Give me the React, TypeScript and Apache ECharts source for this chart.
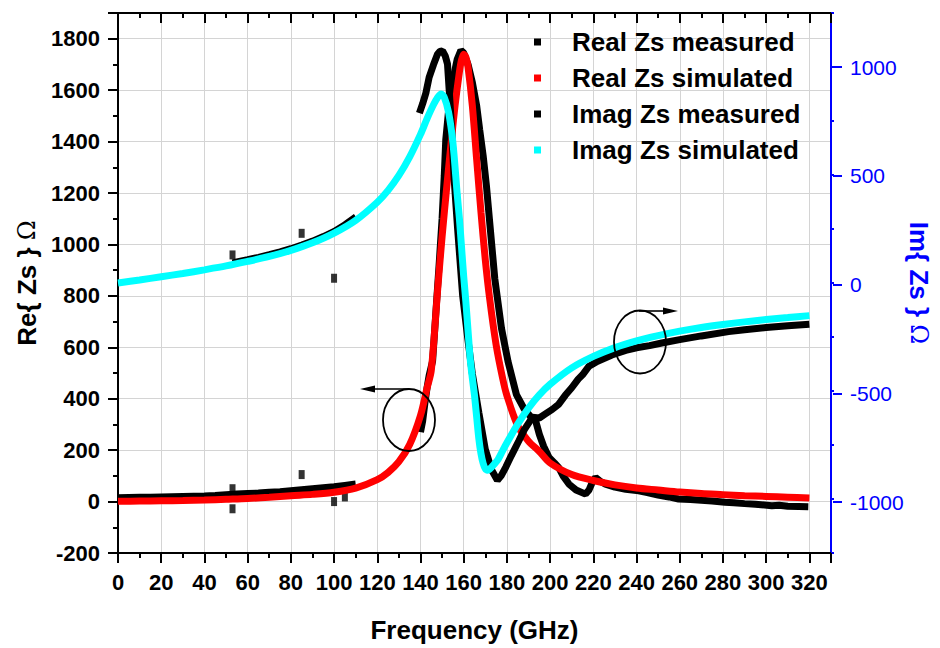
import React, { useEffect, useRef } from "react";
import * as echarts from "echarts";

// ---------- data ----------
// Real Zs simulated (left axis, Ω)
const realSimFreq = [0, 10, 20, 30, 40, 50, 60, 70, 80, 90, 100, 110, 120, 125, 130, 135, 140, 143, 145, 148, 150, 152, 154, 156, 158, 159, 160, 161, 162, 164, 166, 168, 170, 172, 175, 178, 180, 185, 190, 195, 200, 210, 220, 230, 240, 250, 260, 270, 280, 290, 300, 310, 320];
const realSimVals = [1, 2, 3, 4, 6, 9, 12, 17, 23, 28, 36, 52, 85, 113, 155, 222, 335, 440, 510, 830, 1030, 1210, 1380, 1540, 1670, 1718, 1740, 1728, 1690, 1540, 1330, 1125, 940, 790, 610, 480, 412, 295, 235, 195, 150, 105, 82, 65, 53, 45, 37, 31, 27, 23, 20, 17, 14];

// Imag Zs simulated (right axis, Ω)
const imagSimFreq = [0, 10, 20, 30, 40, 50, 60, 70, 80, 90, 100, 110, 120, 125, 130, 135, 140, 143, 146, 148, 149.5, 151, 153, 155, 157, 158, 159, 160, 161, 162, 163, 164, 165, 166, 167, 168, 169, 170, 171, 172, 174, 176, 178, 180, 185, 190, 195, 200, 210, 220, 230, 240, 250, 260, 270, 280, 290, 300, 310, 320];
const imagSimVals = [0, 14, 29, 44, 61, 79, 100, 123, 151, 186, 231, 290, 374, 429, 498, 584, 688, 760, 825, 860, 875, 860, 790, 650, 410, 300, 165, 30, -87, -220, -350, -440, -520, -620, -720, -790, -835, -860, -867, -862, -840, -815, -777, -740, -653, -579, -518, -469, -393, -340, -299, -268, -244, -223, -206, -192, -180, -169, -160, -151];

// Real Zs measured (left axis) – low band and high band
const realMeasLowFreq = [0, 5, 10, 15, 20, 25, 30, 35, 40, 45, 50, 55, 60, 65, 70, 75, 80, 85, 90, 95, 100, 105, 110];
const realMeasLowVals = [15, 16, 17, 17, 18, 19, 20, 21, 22, 24, 27, 29, 31, 33, 36, 38, 42, 46, 50, 54, 58, 63, 68];
const realMeasHighFreq = [140, 141, 142, 143, 144, 145.6, 147, 148.7, 150, 151, 151.7, 153, 155, 157, 158.7, 160, 162, 164, 166, 167.4, 169, 170.5, 172.1, 174.4, 177.5, 180.5, 184.4, 188, 191, 193.3, 195, 197, 199.5, 202, 204, 206, 208.7, 212, 216.4, 218, 219.5, 221, 223, 225.6, 230, 235, 241, 245, 250, 255, 259.5, 265, 270, 275, 281, 285, 290, 295, 302.6, 306, 310, 315, 319.5];
const realMeasHighVals = [270, 313, 380, 440, 490, 546, 720, 931, 1100, 1266, 1407, 1520, 1640, 1720, 1755, 1745, 1700, 1630, 1540, 1446, 1345, 1230, 1080, 866, 673, 545, 416, 360, 330, 314, 262, 215, 171, 150, 132, 100, 68, 45, 29, 45, 75, 94, 80, 68, 56, 48, 42, 35, 25, 18, 10, 8, 5, 2, -3, -5, -8, -10, -16, -14, -18, -19, -20];
const realOutlierFreq = [53, 53, 85, 100, 105];
const realOutlierVals = [50, -28, 105, 0, 18];

// Imag Zs measured (right axis) – low band and high band
const imagMeasLowFreq = [53, 55, 60, 65, 70, 75, 80, 85, 90, 95, 100, 105, 110];
const imagMeasLowVals = [95, 100, 110, 121, 133, 146, 161, 178, 196, 217, 241, 272, 308];
const imagMeasHighFreq = [139.5, 141, 142.5, 144, 146, 147.9, 149, 150.2, 151.5, 152.5, 153.3, 154.5, 155.6, 157.2, 159.5, 161.8, 164, 167, 170, 173, 175.6, 177.5, 179.5, 182, 185.6, 188, 191.8, 195, 198, 201, 204, 207, 210, 213, 215, 218, 222, 228.6, 235, 240, 246, 251.7, 260, 270, 282.6, 290, 300, 310, 320];
const imagMeasHighVals = [786, 830, 880, 952, 1010, 1060, 1072, 1075, 1050, 1014, 891, 700, 478, 249, -57, -250, -420, -600, -770, -867, -913, -890, -852, -800, -729, -680, -622, -625, -605, -585, -561, -520, -485, -445, -425, -385, -362, -333, -312, -300, -290, -278, -262, -245, -225, -216, -206, -198, -191];
const imagOutlierFreq = [53, 85, 100];
const imagOutlierVals = [130, 230, 22];

// axis ranges / ticks
const xRange = [0, 330];
const xStep = 20;
const leftRange = [-200, 1900];
const leftStep = 200;
const rightRange = [-1250, 1250];
const rightMinorStep = 250;
const rightLabelRange = [-1000, 1000];
const rightLabelStep = 500;

const legendNames = ["Real Zs measured", "Real Zs simulated", "Imag Zs measured", "Imag Zs simulated"];

const zip = (xs: number[], ys: number[]) => xs.map((x, i) => [x, ys[i]]);

const SANS = "'Liberation Sans', Arial, Helvetica, sans-serif";
const BLUE = "#0000ff";

export default function App() {
  const ref = useRef<HTMLDivElement>(null);

  useEffect(() => {
    if (!ref.current) return;
    const chart = echarts.init(ref.current, undefined, { renderer: "svg" });

    const blackAxis = { show: true, onZero: false, lineStyle: { color: "#000", width: 2 } };
    const tickStyle = { color: "#000", width: 2 };
    const boldLabel = { color: "#000", fontSize: 22, fontWeight: "bold" as const, fontFamily: SANS };
    const measLine = { color: "#000", width: 7 };

    const option: any = {
      animation: false,
      backgroundColor: "#fff",
      grid: [
        { left: 118, right: 107, top: 13, bottom: 92 },
        { left: 118, right: 107, top: 67, bottom: 146 },
      ],
      legend: {
        orient: "vertical",
        left: 534,
        top: 29,
        padding: 0,
        itemGap: 10,
        itemWidth: 7,
        itemHeight: 7,
        selectedMode: false,
        data: legendNames.map((n) => ({ name: n, icon: "rect" })),
        textStyle: { fontSize: 26, fontWeight: "bold", color: "#000", fontFamily: SANS, padding: [0, 0, 0, 26] },
      },
      xAxis: [
        {
          type: "value",
          gridIndex: 0,
          position: "bottom",
          min: xRange[0],
          max: xRange[1],
          interval: xStep,
          axisLine: blackAxis,
          axisTick: { show: true, length: 10, lineStyle: tickStyle },
          minorTick: { show: true, splitNumber: 2, length: 5, lineStyle: tickStyle },
          axisLabel: { ...boldLabel, margin: 18, formatter: (v: number) => (v > 320 ? "" : String(v)) },
          splitLine: { show: true, lineStyle: { color: "#d4d4d4", width: 1 } },
          name: "Frequency (GHz)",
          nameLocation: "middle",
          nameGap: 64,
          nameTextStyle: { fontSize: 26, fontWeight: "bold", color: "#000", fontFamily: SANS },
        },
        {
          type: "value",
          gridIndex: 0,
          position: "top",
          min: xRange[0],
          max: xRange[1],
          interval: xStep,
          axisLine: blackAxis,
          axisTick: { show: true, inside: true, length: 10, lineStyle: tickStyle },
          minorTick: { show: true, splitNumber: 2, length: 5, lineStyle: tickStyle },
          axisLabel: { show: false },
          splitLine: { show: false },
        },
        {
          type: "value",
          gridIndex: 1,
          min: xRange[0],
          max: xRange[1],
          show: false,
        },
      ],
      yAxis: [
        {
          type: "value",
          gridIndex: 0,
          position: "left",
          min: leftRange[0],
          max: leftRange[1],
          interval: leftStep,
          axisLine: blackAxis,
          axisTick: { show: true, length: 10, lineStyle: tickStyle },
          minorTick: { show: true, splitNumber: 2, length: 5, lineStyle: tickStyle },
          axisLabel: { ...boldLabel, margin: 18, formatter: (v: number) => (v > 1800 ? "" : String(v)) },
          splitLine: { show: true, lineStyle: { color: "#d4d4d4", width: 1 } },
          name: "Re{ Zs } {o|Ω}",
          nameLocation: "middle",
          nameGap: 77,
          nameTextStyle: {
            fontSize: 26,
            fontWeight: "bold",
            color: "#000",
            fontFamily: SANS,
            rich: { o: { fontSize: 24, fontWeight: "normal", color: "#000", fontFamily: "'DejaVu Serif', serif" } },
          },
        },
        {
          type: "value",
          gridIndex: 0,
          position: "right",
          min: rightRange[0],
          max: rightRange[1],
          interval: rightMinorStep,
          axisLine: { show: true, onZero: false, lineStyle: { color: BLUE, width: 2 } },
          axisTick: { show: true, length: 3, lineStyle: { color: BLUE, width: 2 } },
          axisLabel: { show: false },
          splitLine: { show: false },
          name: "Im{ Zs } {o|Ω}",
          nameLocation: "middle",
          nameRotate: -90,
          nameGap: 75,
          nameTextStyle: {
            fontSize: 26,
            fontWeight: "bold",
            color: BLUE,
            fontFamily: SANS,
            rich: { o: { fontSize: 24, fontWeight: "normal", color: BLUE, fontFamily: "'DejaVu Serif', serif" } },
          },
        },
        {
          type: "value",
          gridIndex: 1,
          position: "right",
          min: rightLabelRange[0],
          max: rightLabelRange[1],
          interval: rightLabelStep,
          axisLine: { show: false, onZero: false },
          axisTick: { show: true, length: 9, lineStyle: { color: BLUE, width: 2 } },
          axisLabel: { color: BLUE, fontSize: 21, fontFamily: SANS, margin: 17, formatter: (v: number) => String(v) },
          splitLine: { show: false },
        },
      ],
      series: [
        {
          name: legendNames[0],
          type: "line",
          xAxisIndex: 0,
          yAxisIndex: 0,
          data: zip(realMeasLowFreq, realMeasLowVals),
          showSymbol: false,
          lineStyle: measLine,
          itemStyle: { color: "#000" },
          silent: true,
          z: 2,
        },
        {
          name: legendNames[0],
          type: "line",
          xAxisIndex: 0,
          yAxisIndex: 0,
          data: zip(realMeasHighFreq, realMeasHighVals),
          showSymbol: false,
          lineStyle: measLine,
          itemStyle: { color: "#000" },
          silent: true,
          z: 2,
        },
        {
          name: legendNames[0],
          type: "scatter",
          xAxisIndex: 0,
          yAxisIndex: 0,
          data: zip(realOutlierFreq, realOutlierVals),
          symbol: "rect",
          symbolSize: [6, 9],
          itemStyle: { color: "#000" },
          silent: true,
          z: 2,
        },
        {
          name: legendNames[1],
          type: "line",
          xAxisIndex: 0,
          yAxisIndex: 0,
          data: zip(realSimFreq, realSimVals),
          showSymbol: false,
          smooth: 0.3,
          lineStyle: { color: "#ff0000", width: 7 },
          itemStyle: { color: "#ff0000" },
          silent: true,
          z: 3,
        },
        {
          name: legendNames[2],
          type: "line",
          xAxisIndex: 0,
          yAxisIndex: 1,
          data: zip(imagMeasLowFreq, imagMeasLowVals),
          showSymbol: false,
          lineStyle: { color: "#000", width: 6 },
          itemStyle: { color: "#000" },
          silent: true,
          z: 4,
        },
        {
          name: legendNames[2],
          type: "line",
          xAxisIndex: 0,
          yAxisIndex: 1,
          data: zip(imagMeasHighFreq, imagMeasHighVals),
          showSymbol: false,
          lineStyle: measLine,
          itemStyle: { color: "#000" },
          silent: true,
          z: 4,
        },
        {
          name: legendNames[2],
          type: "scatter",
          xAxisIndex: 0,
          yAxisIndex: 1,
          data: zip(imagOutlierFreq, imagOutlierVals),
          symbol: "rect",
          symbolSize: [6, 9],
          itemStyle: { color: "#000" },
          silent: true,
          z: 4,
        },
        {
          name: legendNames[3],
          type: "line",
          xAxisIndex: 0,
          yAxisIndex: 1,
          data: zip(imagSimFreq, imagSimVals),
          showSymbol: false,
          smooth: 0.3,
          lineStyle: { color: "#00ffff", width: 7 },
          itemStyle: { color: "#00ffff" },
          silent: true,
          z: 5,
        },
      ],
      graphic: [
        { type: "ellipse", z: 100, shape: { cx: 409, cy: 420, rx: 26, ry: 31 }, style: { fill: "transparent", stroke: "#000", lineWidth: 1.8 } },
        { type: "line", z: 100, shape: { x1: 409, y1: 389, x2: 372, y2: 389 }, style: { stroke: "#000", lineWidth: 1.6 } },
        { type: "polygon", z: 100, shape: { points: [[360, 389], [375, 385.5], [375, 392.5]] }, style: { fill: "#000" } },
        { type: "ellipse", z: 100, shape: { cx: 640, cy: 342, rx: 26, ry: 31.5 }, style: { fill: "transparent", stroke: "#000", lineWidth: 1.8 } },
        { type: "line", z: 100, shape: { x1: 639, y1: 311, x2: 666, y2: 311 }, style: { stroke: "#000", lineWidth: 1.6 } },
        { type: "polygon", z: 100, shape: { points: [[678, 311], [663, 307.5], [663, 314.5]] }, style: { fill: "#000" } },
      ],
    };

    chart.setOption(option);
    return () => chart.dispose();
  }, []);

  return (
    <div
      ref={ref}
      style={{ position: "absolute", left: 0, top: 0, width: 940, height: 648, background: "#fff" }}
    />
  );
}
